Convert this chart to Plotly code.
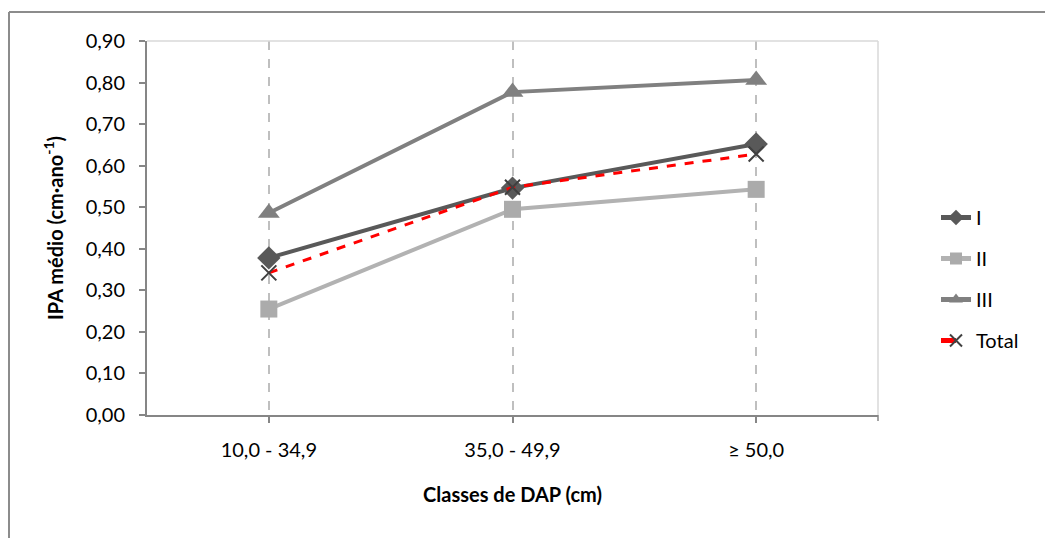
import plotly.graph_objects as go

categories = ["10,0 - 34,9", "35,0 - 49,9", "≥ 50,0"]
serie_I = [0.378, 0.546, 0.652]
serie_II = [0.255, 0.495, 0.543]
serie_III = [0.486, 0.777, 0.806]
serie_total = [0.342, 0.548, 0.628]
y_ticks = [0.0, 0.1, 0.2, 0.3, 0.4, 0.5, 0.6, 0.7, 0.8, 0.9]

W, H = 1053, 538
OFF = 8  # page body margin
PL, PR, PT, PB = 147, 878, 41, 415  # plot area in screen pixels
L, T = PL - OFF, PT - OFF
R = W + OFF - PR
B = H + OFF - PB
FONT = "Lato"
FS = 20
x_pos = list(range(len(categories)))

fig = go.Figure()
fig.add_trace(go.Scatter(x=x_pos, y=serie_I, name="I", mode="lines+markers",
                         line=dict(color="#595959", width=4),
                         marker=dict(symbol="diamond", size=18, color="#595959"),
                         legendgroup="a"))
fig.add_trace(go.Scatter(x=x_pos, y=serie_II, name="II", mode="lines+markers",
                         line=dict(color="#b2b2b2", width=4),
                         marker=dict(symbol="square", size=17, color="#ababab"),
                         legendgroup="b"))
fig.add_trace(go.Scatter(x=x_pos, y=serie_III, name="III", mode="lines+markers",
                         line=dict(color="#808080", width=4),
                         marker=dict(symbol="triangle-up", size=19, color="#808080"),
                         legendgroup="c"))
fig.add_trace(go.Scatter(x=x_pos, y=serie_total, name="Total", mode="lines+markers",
                         line=dict(color="#ff0000", width=3, dash="dash"),
                         marker=dict(symbol="x-thin", size=15,
                                     line=dict(color="#404040", width=2), color="#404040"),
                         legendgroup="d"))

px_x = lambda p: (p - PL) / (PR - PL)
px_y = lambda p: (PB - p) / (PB - PT)

shapes = [
    dict(type="line", xref="paper", yref="paper", x0=0, x1=1, y0=1, y1=1,
         line=dict(color="#d9d9d9", width=1.5)),
    dict(type="line", xref="paper", yref="paper", x0=1, x1=1, y0=0, y1=1,
         line=dict(color="#d9d9d9", width=1.5)),
    dict(type="line", xref="paper", yref="paper", x0=1, x1=1, y0=0, y1=-6,
         ysizemode="pixel", yanchor=0, line=dict(color="#868686", width=1.5)),
    dict(type="line", xref="paper", yref="paper", x0=px_x(9), x1=px_x(9),
         y0=px_y(12), y1=px_y(560), line=dict(color="#8c8c8c", width=2)),
    dict(type="line", xref="paper", yref="paper", x0=px_x(9), x1=px_x(1080),
         y0=px_y(12), y1=px_y(12), line=dict(color="#8c8c8c", width=2)),
]

fig.update_layout(
    width=W, height=H,
    margin=dict(l=L, r=R, t=T, b=B),
    paper_bgcolor="white", plot_bgcolor="white",
    separators=",.",
    font=dict(family=FONT, size=FS, color="#000000"),
    shapes=shapes,
    legend=dict(x=px_x(936), y=px_y(198), xanchor="left", yanchor="top",
                font=dict(family=FONT, size=FS), tracegroupgap=12,
                itemsizing="constant",
                traceorder="grouped", bgcolor="rgba(0,0,0,0)"),
    xaxis=dict(range=[-0.5, 2.5], tickvals=x_pos, ticktext=categories,
               showgrid=True, gridcolor="#bfbfbf", griddash="dash", gridwidth=1.5,
               showline=True, linecolor="#868686", linewidth=2,
               ticks="outside", ticklen=6, tickcolor="#868686", tickwidth=1.5,
               ticklabelstandoff=10, automargin=False,
               zeroline=False, fixedrange=True,
               title=dict(text="<b>Classes de DAP (cm)</b>", standoff=28,
                          font=dict(family=FONT, size=FS))),
    yaxis=dict(range=[0, 0.9], tickvals=y_ticks, tickformat=".2f",
               showgrid=False, showline=True, linecolor="#868686", linewidth=2,
               ticks="outside", ticklen=6, tickcolor="#868686", tickwidth=1.5,
               ticklabelstandoff=10, automargin=False,
               zeroline=False, fixedrange=True,
               title=dict(text="<b>IPA médio (cm·ano<sup>-1</sup>)</b>", standoff=17,
                          font=dict(family=FONT, size=FS))),
)

fig.write_html("out.html")
